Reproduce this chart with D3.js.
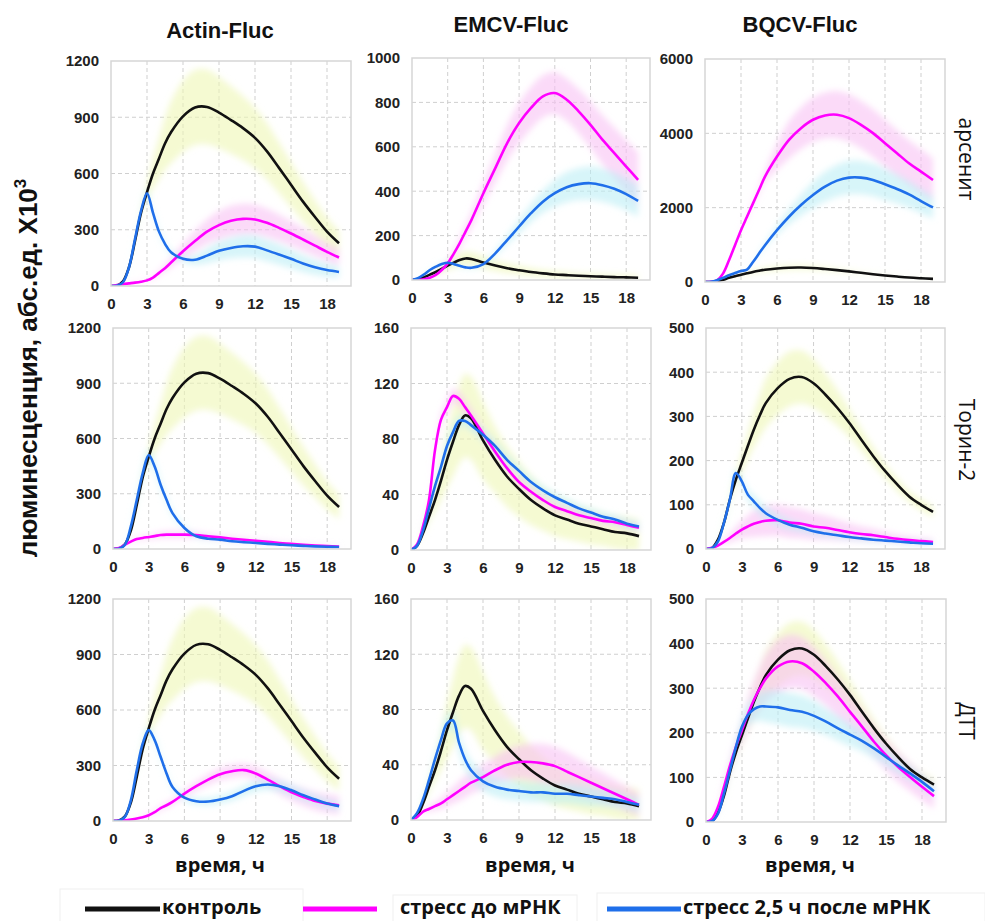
<!DOCTYPE html>
<html>
<head>
<meta charset="utf-8">
<script src="https://cdn.jsdelivr.net/npm/d3@7"></script>
<style>
  body { margin: 0; background: #fff; }
  svg { display: block; }
</style>
</head>
<body>
<svg id="chart" width="985" height="921"></svg>
<script>
// time points, h
const hours = [0,0.5,1,1.5,2,2.5,3,3.5,4,4.5,5,6,7,8,9,10,11,12,13,14,15,16,17,18,19];

const columnTitles = ["Actin-Fluc", "EMCV-Fluc", "BQCV-Fluc"];
const rowTitles = ["арсенит", "Торин-2", "ДТТ"];
const legendLabels = ["контроль", "стресс до мРНК", "стресс 2,5 ч после мРНК"];
const xTicks = [0, 3, 6, 9, 12, 15, 18];

// Actin-Fluc
const actinControl   = [0,3,25,100,240,390,500,600,680,760,820,905,952,955,925,885,842,790,718,630,540,450,368,290,228];
const actinControlSd = [0,0,0,0,5,20,45,80,110,140,165,190,200,200,190,180,170,160,150,135,120,105,90,75,65];
const actinArsBefore   = [0,5,10,14,18,23,30,45,70,95,125,185,240,290,325,348,358,355,337,310,280,248,215,182,152];
const actinArsBeforeSd = [0,0,0,2,3,4,5,8,12,18,25,40,55,65,75,80,80,78,75,70,65,60,55,48,42];
const actinArsAfter    = [0,2,20,100,250,400,495,390,290,225,180,145,140,162,188,203,212,210,190,168,145,120,100,85,75];
const actinArsAfterSd  = [0,0,2,5,10,15,20,18,15,12,12,15,25,40,50,55,60,60,58,55,50,45,40,35,30];
const actinTorBefore   = [0,5,23,40,54,60,65,70,76,78,78,78,76,69,63,56,50,45,39,33,28,23,19,16,13];
const actinTorBeforeSd = [0,0,2,5,8,10,12,14,16,18,18,18,16,14,12,10,9,8,7,6,6,5,5,5,5];
const actinTorAfter    = [0,2,23,123,267,412,510,448,349,267,195,114,69,56,51,42,37,33,28,24,20,17,14,12,11];
const actinTorAfterSd  = [0,0,3,10,20,30,35,30,25,20,15,10,8,6,5,5,4,4,4,3,3,3,3,3,3];
const actinDttBefore   = [0,2,4,8,13,20,31,48,70,85,103,148,188,224,253,269,275,257,224,188,155,130,108,94,85];
const actinDttBeforeSd = [0,0,0,2,4,6,8,10,12,14,16,20,25,30,32,35,35,38,40,42,45,48,50,50,50];
const actinDttAfter    = [0,1,22,112,275,419,491,437,347,257,184,126,107,105,116,134,163,188,197,188,166,139,116,94,80];
const actinDttAfterSd  = [0,0,2,5,10,15,20,18,15,12,12,15,18,20,22,25,28,30,30,30,30,28,26,24,22];

// EMCV-Fluc
const emcvControl   = [0,3,12,24,36,50,65,78,90,97,95,79,65,53,44,36,30,25,22,19,17,15,13,12,10];
const emcvControlSd = [0,0,2,4,8,14,20,25,28,30,30,28,24,22,20,18,16,15,14,13,13,12,12,12,12];
const emcvArsBefore   = [0,1,3,10,23,45,75,118,165,218,271,391,504,617,707,775,827,842,812,760,699,632,572,511,451];
const emcvArsBeforeSd = [0,0,0,2,5,8,12,18,24,30,36,50,65,80,90,95,95,95,95,100,105,110,115,120,125];
const emcvArsAfter    = [0,8,25,45,60,72,78,72,64,57,55,72,120,180,241,301,353,391,418,432,436,427,411,387,356];
const emcvArsAfterSd  = [0,0,2,3,4,5,5,5,5,5,5,8,12,20,30,40,50,60,68,72,75,75,75,72,72];
const emcvTorBefore   = [0,4,17,36,72,94,103,111,109,103,97,84,71,59,49,42,36,31,28,25,23,21,20,18,16];
const emcvTorBeforeSd = [0,0,1,2,3,4,5,5,5,5,5,4,4,3,3,3,3,3,3,3,3,3,3,3,3];
const emcvTorAfter    = [0,3,14,30,46,60,75,85,93,93,90,83,75,65,57,49,43,38,34,30,27,24,22,19,17];
const emcvTorAfterSd  = [0,0,1,2,3,3,4,4,4,4,4,4,4,4,3,3,3,3,3,3,3,3,3,3,3];
const emcvDttBefore   = [0,2,6,8,10,12,15,18,21,24,27,31,36,40,42,42,41,39,35,31,27,23,19,15,11];
const emcvDttBeforeSd = [0,0,1,2,3,4,5,6,7,8,8,9,10,11,12,13,14,14,14,13,12,11,10,9,8];
const emcvDttAfter    = [0,5,15,29,44,58,70,72,56,44,36,28,24,22,21,20,20,19,19,18,17,16,15,13,11];
const emcvDttAfterSd  = [0,0,1,2,3,4,6,7,7,7,7,7,7,7,7,7,7,7,7,7,7,6,6,5,5];

// BQCV-Fluc
const bqcvControl   = [0,2,21,59,112,157,195,233,270,302,330,364,385,389,375,349,319,285,247,210,176,146,119,100,84];
const bqcvControlSd = [0,0,2,5,10,15,22,30,40,48,55,60,62,60,55,48,40,32,25,20,16,14,12,12,12];
const bqcvArsBefore   = [0,5,45,225,585,990,1395,1755,2115,2475,2835,3375,3825,4140,4365,4480,4500,4410,4230,4005,3735,3465,3195,2970,2745];
const bqcvArsBeforeSd = [0,0,0,5,10,20,30,50,70,100,150,350,500,560,600,620,640,640,640,640,630,620,610,600,580];
const bqcvArsAfter    = [0,5,45,110,180,240,297,333,540,765,990,1395,1755,2070,2340,2565,2727,2808,2808,2745,2628,2502,2358,2178,2007];
const bqcvArsAfterSd  = [0,0,0,0,0,0,0,0,20,40,60,120,200,280,350,400,430,450,450,440,420,390,360,330,300];
const bqcvTorBefore   = [0,3,8,16,25,35,44,51,57,61,64,65,60,57,51,48,43,38,34,31,27,23,20,18,16];
const bqcvTorBeforeSd = [0,0,2,5,10,15,20,25,30,33,35,35,35,33,30,27,24,20,17,15,12,10,8,7,6];
const bqcvTorAfter    = [0,2,17,59,112,172,153,123,108,93,81,66,55,48,40,35,31,27,24,21,19,17,15,13,12];
const bqcvTorAfterSd  = [0,0,2,4,6,8,10,12,14,15,15,14,12,10,8,7,6,5,5,5,4,4,4,4,4];
const bqcvDttBefore   = [0,7,34,79,127,169,206,242,274,300,322,349,360,356,337,311,281,247,214,180,150,124,101,79,58];
const bqcvDttBeforeSd = [0,2,5,10,15,20,28,35,42,50,55,60,60,58,55,50,45,40,38,36,35,34,32,30,28];
const bqcvDttAfter    = [0,2,19,64,116,169,214,240,253,259,259,257,251,247,238,225,210,196,182,165,146,127,109,90,69];
const bqcvDttAfterSd  = [0,0,2,5,8,12,18,24,28,32,35,38,38,36,34,30,28,26,24,22,20,18,16,15,14];

const panels = [
  { yMax: 1200, yStep: 300,  control: [actinControl, actinControlSd], before: [actinArsBefore, actinArsBeforeSd], after: [actinArsAfter, actinArsAfterSd] },
  { yMax: 1000, yStep: 200,  control: [emcvControl, emcvControlSd],   before: [emcvArsBefore, emcvArsBeforeSd],   after: [emcvArsAfter, emcvArsAfterSd] },
  { yMax: 6000, yStep: 2000, control: [bqcvControl, bqcvControlSd],   before: [bqcvArsBefore, bqcvArsBeforeSd],   after: [bqcvArsAfter, bqcvArsAfterSd] },
  { yMax: 1200, yStep: 300,  control: [actinControl, actinControlSd], before: [actinTorBefore, actinTorBeforeSd], after: [actinTorAfter, actinTorAfterSd] },
  { yMax: 160,  yStep: 40,   control: [emcvControl, emcvControlSd],   before: [emcvTorBefore, emcvTorBeforeSd],   after: [emcvTorAfter, emcvTorAfterSd] },
  { yMax: 500,  yStep: 100,  control: [bqcvControl, bqcvControlSd],   before: [bqcvTorBefore, bqcvTorBeforeSd],   after: [bqcvTorAfter, bqcvTorAfterSd] },
  { yMax: 1200, yStep: 300,  control: [actinControl, actinControlSd], before: [actinDttBefore, actinDttBeforeSd], after: [actinDttAfter, actinDttAfterSd] },
  { yMax: 160,  yStep: 40,   control: [emcvControl, emcvControlSd],   before: [emcvDttBefore, emcvDttBeforeSd],   after: [emcvDttAfter, emcvDttAfterSd] },
  { yMax: 500,  yStep: 100,  control: [bqcvControl, bqcvControlSd],   before: [bqcvDttBefore, bqcvDttBeforeSd],   after: [bqcvDttAfter, bqcvDttAfterSd] }
];

// plot boxes [left, top, right, bottom]; the source is a pasted composite so they are not perfectly aligned
const boxes = [
  [111, 61, 351, 286], [412, 58, 650, 280], [705, 59, 945, 282],
  [113, 328, 351, 549], [411, 328, 651, 550], [706, 328, 945, 549],
  [113, 599, 351, 821], [411, 599, 651, 820], [706, 599, 946, 822]
];

const lineColor = { control: "#111111", before: "#ff00ff", after: "#1f6fea" };
const bandColor = { control: "#eef7b4", before: "#f9c2f3", after: "#bdeef5" };
const tickFont = "'Liberation Sans', Arial, sans-serif";
const textFont = "'Open Sans', 'Noto Sans', sans-serif";

const svg = d3.select("#chart");
svg.append("rect").attr("width", 985).attr("height", 921).attr("fill", "#fff");

const defs = svg.append("defs");
defs.append("filter").attr("id", "soft")
  .attr("x", "-10%").attr("y", "-10%").attr("width", "120%").attr("height", "120%")
  .append("feGaussianBlur").attr("stdDeviation", 3);

const smooth = d3.curveCatmullRom.alpha(0.5);

panels.forEach((panel, i) => {
  const [left, top, right, bottom] = boxes[i];
  const x = d3.scaleLinear().domain([0, 20]).range([left, right]);
  const y = d3.scaleLinear().domain([0, panel.yMax]).range([bottom, top]);
  const yTicks = d3.range(0, panel.yMax + 1, panel.yStep);
  const g = svg.append("g");

  g.append("rect")
    .attr("x", left).attr("y", top)
    .attr("width", right - left).attr("height", bottom - top)
    .attr("fill", "#fff");

  // dashed grid
  g.append("g").selectAll("line")
    .data(xTicks.filter((t) => t > 0))
    .join("line")
    .attr("x1", (t) => x(t)).attr("x2", (t) => x(t))
    .attr("y1", top).attr("y2", bottom)
    .attr("stroke", "#cfcfcf").attr("stroke-dasharray", "4,3");
  g.append("g").selectAll("line")
    .data(yTicks.filter((v) => v > 0 && v < panel.yMax))
    .join("line")
    .attr("x1", left).attr("x2", right)
    .attr("y1", (v) => y(v)).attr("y2", (v) => y(v))
    .attr("stroke", "#cfcfcf").attr("stroke-dasharray", "4,3");

  const clipId = "clip" + i;
  defs.append("clipPath").attr("id", clipId)
    .append("rect")
    .attr("x", left).attr("y", top)
    .attr("width", right - left).attr("height", bottom - top);

  const series = [
    { key: "control", values: panel.control[0], sd: panel.control[1] },
    { key: "before", values: panel.before[0], sd: panel.before[1] },
    { key: "after", values: panel.after[0], sd: panel.after[1] }
  ];

  const band = (s) => d3.area()
    .x((d, j) => x(hours[j]))
    .y0((d, j) => y(Math.max(0, s.values[j] - s.sd[j])))
    .y1((d, j) => y(s.values[j] + s.sd[j]))
    .curve(smooth)(s.values);

  const line = d3.line()
    .x((d, j) => x(hours[j]))
    .y((d) => y(d))
    .curve(smooth);

  const plot = g.append("g").attr("clip-path", `url(#${clipId})`);
  plot.append("g").attr("filter", "url(#soft)")
    .selectAll("path")
    .data(series)
    .join("path")
    .attr("d", band)
    .attr("fill", (s) => bandColor[s.key])
    .attr("fill-opacity", 0.6);

  plot.append("g").selectAll("path")
    .data(series)
    .join("path")
    .attr("d", (s) => line(s.values))
    .attr("fill", "none")
    .attr("stroke", (s) => lineColor[s.key])
    .attr("stroke-width", 2.6)
    .attr("stroke-linejoin", "round");

  g.append("rect")
    .attr("x", left).attr("y", top)
    .attr("width", right - left).attr("height", bottom - top)
    .attr("fill", "none").attr("stroke", "#d6d6d6").attr("stroke-width", 1.5);

  const yAxis = g.append("g")
    .attr("transform", `translate(${left},0)`)
    .call(d3.axisLeft(y).tickValues(yTicks).tickFormat(d3.format("d")).tickSize(0).tickPadding(12));
  const xAxis = g.append("g")
    .attr("transform", `translate(0,${bottom})`)
    .call(d3.axisBottom(x).tickValues(xTicks).tickFormat(d3.format("d")).tickSize(0).tickPadding(12));
  [yAxis, xAxis].forEach((ax) => {
    ax.select(".domain").remove();
    ax.selectAll("text")
      .attr("font-family", tickFont)
      .attr("font-size", 15)
      .attr("font-weight", "bold")
      .attr("fill", "#222");
  });
});

// column titles
const titleX = [220, 511, 800];
const titleY = [38, 32, 32];
svg.append("g").selectAll("text")
  .data(columnTitles)
  .join("text")
  .attr("x", (d, i) => titleX[i])
  .attr("y", (d, i) => titleY[i])
  .attr("text-anchor", "middle")
  .attr("font-family", tickFont)
  .attr("font-size", 22)
  .attr("font-weight", "bold")
  .attr("fill", "#111")
  .text((d) => d);

// row titles, rotated on the right
const rowY = [159, 440, 721];
svg.append("g").selectAll("text")
  .data(rowTitles)
  .join("text")
  .attr("transform", (d, i) => `translate(959,${rowY[i]}) rotate(90)`)
  .attr("text-anchor", "middle")
  .attr("font-family", textFont)
  .attr("font-size", 21)
  .attr("fill", "#111")
  .text((d) => d);

// shared y title
const yTitle = svg.append("text")
  .attr("transform", "translate(37,368) rotate(-90)")
  .attr("text-anchor", "middle")
  .attr("font-family", tickFont)
  .attr("font-size", 26)
  .attr("font-weight", "bold")
  .attr("fill", "#111");
yTitle.append("tspan").text("люминесценция, абс.ед. X10");
yTitle.append("tspan").attr("font-size", 17).attr("dy", -11).text("3");

// x titles
svg.append("g").selectAll("text")
  .data([220, 530, 810])
  .join("text")
  .attr("x", (d) => d)
  .attr("y", 872)
  .attr("text-anchor", "middle")
  .attr("font-family", textFont)
  .attr("font-size", 20)
  .attr("font-weight", "bold")
  .attr("fill", "#111")
  .text("время, ч");

// legend
const legendItems = [
  { key: "control", x1: 85, x2: 160, tx: 162 },
  { key: "before", x1: 303, x2: 377, tx: 400 },
  { key: "after", x1: 607, x2: 681, tx: 683 }
];
const legendBoxes = [[60, 889, 243], [393, 895, 184], [597, 893, 388]];
svg.append("g").selectAll("rect")
  .data(legendBoxes)
  .join("rect")
  .attr("x", (d) => d[0]).attr("y", (d) => d[1])
  .attr("width", (d) => d[2]).attr("height", 40)
  .attr("fill", "none").attr("stroke", "#f0f0f0");
const legend = svg.append("g");
legend.selectAll("line")
  .data(legendItems)
  .join("line")
  .attr("x1", (d) => d.x1).attr("x2", (d) => d.x2)
  .attr("y1", 909).attr("y2", 909)
  .attr("stroke", (d) => lineColor[d.key])
  .attr("stroke-width", 5);
legend.selectAll("text")
  .data(legendItems)
  .join("text")
  .attr("x", (d) => d.tx)
  .attr("y", 914)
  .attr("font-family", textFont)
  .attr("font-size", 20)
  .attr("font-weight", "bold")
  .attr("fill", "#111")
  .text((d, i) => legendLabels[i]);
</script>
</body>
</html>
